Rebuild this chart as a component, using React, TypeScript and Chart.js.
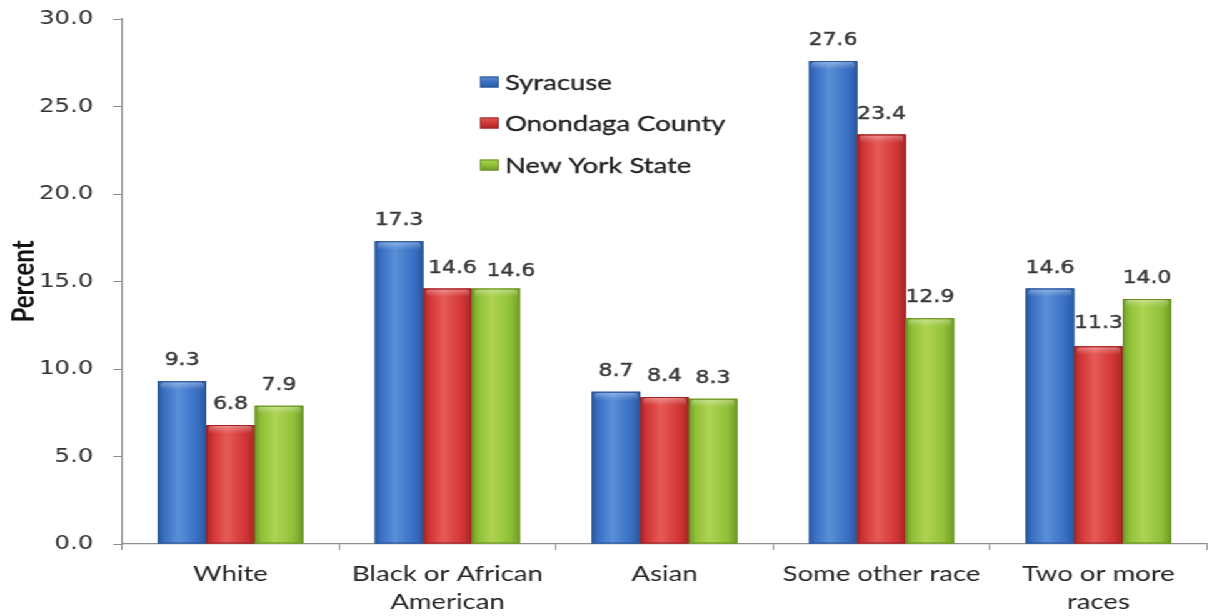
import React, { useEffect, useRef } from 'react';
import { Chart, registerables } from 'chart.js';

Chart.register(...registerables);

// ---- data ----
const categories: (string | string[])[] = [
  'White',
  ['Black or African', 'American'],
  'Asian',
  'Some other race',
  ['Two or more', 'races'],
];
const seriesNames = ['Syracuse', 'Onondaga County', 'New York State'];
const syracuse = [9.3, 17.3, 8.7, 27.6, 14.6];
const onondaga = [6.8, 14.6, 8.4, 23.4, 11.3];
const newYorkState = [7.9, 14.6, 8.3, 12.9, 14.0];
const yMin = 0;
const yMax = 30;
const yStep = 5;

// ---- look ----
const FRAME_W = 1214;
const FRAME_H = 616;
const CANVAS_W = 971; // drawn narrower, then widened horizontally
const STRETCH = FRAME_W / CANVAS_W;

const PLOT_LEFT = 122 / STRETCH;
const PLOT_RIGHT = 1207 / STRETCH;
const PLOT_TOP = 19;
const PLOT_BOTTOM = 544;

const LABEL_FONT = 'Lato, "Noto Sans", sans-serif';
const NUM_FONT = '"DejaVu Sans", Verdana, sans-serif';
const AXIS_COLOR = '#8e8e8e';

type Tone = { base: string; dark: string; mid: string; light: string; edge: string };
const tones: Tone[] = [
  { base: '#3d72c2', dark: '#2a58a0', mid: '#3a70c4', light: '#5a8fd8', edge: '#2b5596' },
  { base: '#d43a3a', dark: '#a82626', mid: '#d23636', light: '#e65a58', edge: '#9c2424' },
  { base: '#94c23a', dark: '#6f9a26', mid: '#90c038', light: '#aed452', edge: '#6a8f24' },
];

// Cylinder-like shading on every bar, using the positions the bar elements got from the scales.
const barShading = {
  id: 'barShading',
  afterDatasetsDraw(chart: any) {
    const ctx: CanvasRenderingContext2D = chart.ctx;
    ctx.save();
    chart.data.datasets.forEach((_ds: any, di: number) => {
      const meta = chart.getDatasetMeta(di);
      const tone = tones[di];
      meta.data.forEach((bar: any) => {
        const { x, y, base, width } = bar.getProps(['x', 'y', 'base', 'width'], true);
        const l = x - width / 2;
        const r = x + width / 2;
        const h = base - y;
        const g = ctx.createLinearGradient(l, 0, r, 0);
        g.addColorStop(0, tone.dark);
        g.addColorStop(0.14, tone.mid);
        g.addColorStop(0.42, tone.light);
        g.addColorStop(0.8, tone.mid);
        g.addColorStop(1, tone.dark);
        ctx.fillStyle = g;
        ctx.fillRect(l, y, width, h);

        // rounded lighter cap on top
        const capH = Math.min(7, h);
        const cg = ctx.createLinearGradient(0, y, 0, y + capH);
        cg.addColorStop(0, 'rgba(255,255,255,0.38)');
        cg.addColorStop(1, 'rgba(255,255,255,0.05)');
        ctx.fillStyle = cg;
        ctx.beginPath();
        ctx.roundRect(l + 2, y + 1, width - 4, capH, [3, 3, 0, 0]);
        ctx.fill();

        ctx.strokeStyle = tone.edge;
        ctx.lineWidth = 1;
        ctx.strokeRect(l + 0.5, y + 0.5, width - 1, h - 1);
      });
    });
    ctx.restore();
  },
};

// Sideways nudges (in canvas px) for labels that would otherwise touch: [dataset][category]
const labelNudgeX: Record<string, number> = { '1-1': 4, '2-1': 12 };
const labelNudgeY: Record<string, number> = { '2-1': -3, '1-4': 2 };

// Value written above each bar.
const valueLabels = {
  id: 'valueLabels',
  afterDatasetsDraw(chart: any) {
    const ctx: CanvasRenderingContext2D = chart.ctx;
    ctx.save();
    ctx.font = `17.5px ${NUM_FONT}`;
    ctx.fillStyle = '#383838';
    ctx.strokeStyle = '#383838';
    ctx.lineWidth = 0.45;
    ctx.textAlign = 'center';
    ctx.textBaseline = 'alphabetic';
    chart.data.datasets.forEach((ds: any, di: number) => {
      const meta = chart.getDatasetMeta(di);
      meta.data.forEach((bar: any, i: number) => {
        const { x, y } = bar.getProps(['x', 'y'], true);
        const key = `${di}-${i}`;
        const tx = x + (labelNudgeX[key] || 0);
        const ty = y - 16 - (labelNudgeY[key] || 0);
        const txt = Number(ds.data[i]).toFixed(1);
        ctx.fillText(txt, tx, ty);
        ctx.strokeText(txt, tx, ty);
      });
    });
    ctx.restore();
  },
};

// Vertical legend placed inside the plot area.
const insideLegend = {
  id: 'insideLegend',
  afterDraw(chart: any) {
    const ctx: CanvasRenderingContext2D = chart.ctx;
    const boxX = 480 / STRETCH;
    const boxW = 15;
    const boxH = 11;
    const textX = 505 / STRETCH;
    const rowY = [82, 123, 165];
    ctx.save();
    ctx.font = `22px ${LABEL_FONT}`;
    ctx.textBaseline = 'middle';
    ctx.textAlign = 'left';
    chart.data.datasets.forEach((ds: any, di: number) => {
      const tone = tones[di];
      const cy = rowY[di];
      const g = ctx.createLinearGradient(0, cy - boxH / 2, 0, cy + boxH / 2);
      g.addColorStop(0, tone.light);
      g.addColorStop(0.5, tone.mid);
      g.addColorStop(1, tone.dark);
      ctx.fillStyle = g;
      ctx.fillRect(boxX, cy - boxH / 2, boxW, boxH);
      ctx.strokeStyle = tone.edge;
      ctx.lineWidth = 1;
      ctx.strokeRect(boxX + 0.5, cy - boxH / 2 + 0.5, boxW - 1, boxH - 1);
      ctx.fillStyle = '#222';
      ctx.strokeStyle = '#222';
      ctx.lineWidth = 0.3;
      ctx.fillText(ds.label, textX, cy + 1);
      ctx.strokeText(ds.label, textX, cy + 1);
    });
    ctx.restore();
  },
};

export default function App() {
  const canvasRef = useRef<HTMLCanvasElement | null>(null);

  useEffect(() => {
    const canvas = canvasRef.current;
    if (!canvas) return;
    const seriesValues = [syracuse, onondaga, newYorkState];
    const chart = new Chart(canvas, {
      type: 'bar',
      data: {
        labels: categories as any,
        datasets: seriesValues.map((values, i) => ({
          label: seriesNames[i],
          data: values,
          backgroundColor: tones[i].base,
          borderWidth: 0,
          categoryPercentage: 0.67,
          barPercentage: 1.0,
        })),
      },
      options: {
        responsive: false,
        animation: false,
        devicePixelRatio: 1,
        layout: {
          padding: { left: 0, top: PLOT_TOP, right: CANVAS_W - PLOT_RIGHT, bottom: 0 },
        },
        plugins: {
          legend: { display: false },
          tooltip: { enabled: false },
        },
        scales: {
          x: {
            grid: {
              drawOnChartArea: false,
              drawTicks: true,
              tickLength: 6,
              color: AXIS_COLOR,
              offset: true,
            },
            border: { display: true, color: AXIS_COLOR, width: 1.2 },
            ticks: {
              font: { family: LABEL_FONT, size: 22, lineHeight: 1.27 },
              color: '#262626',
              padding: 10,
              maxRotation: 0,
              autoSkip: false,
            },
            afterFit: (scale: any) => {
              scale.height = FRAME_H - PLOT_BOTTOM;
            },
          },
          y: {
            min: yMin,
            max: yMax,
            grid: {
              drawOnChartArea: false,
              drawTicks: true,
              tickLength: 7,
              color: AXIS_COLOR,
            },
            border: { display: true, color: AXIS_COLOR, width: 1.2 },
            ticks: {
              stepSize: yStep,
              font: { family: NUM_FONT, size: 19.5 },
              color: '#333',
              padding: 16,
              callback: (v: any) => Number(v).toFixed(1),
            },
            title: {
              display: true,
              text: 'Percent',
              font: { family: LABEL_FONT, size: 24, weight: 'bold' },
              color: '#111',
              padding: { top: 5, bottom: 0 },
            },
            afterFit: (scale: any) => {
              scale.width = PLOT_LEFT;
              // only half a label of head-room is needed above the top tick
              scale.paddingTop = 12;
              scale.paddingBottom = 12;
            },
          },
        },
      },
      plugins: [barShading, valueLabels, insideLegend],
    });
    return () => chart.destroy();
  }, []);

  return (
    <div
      style={{
        position: 'fixed',
        left: 0,
        top: 0,
        width: CANVAS_W,
        height: FRAME_H,
        background: '#fff',
        transform: `scaleX(${STRETCH})`,
        transformOrigin: '0 0',
      }}
    >
      <canvas ref={canvasRef} width={CANVAS_W} height={FRAME_H} style={{ display: 'block' }} />
    </div>
  );
}
